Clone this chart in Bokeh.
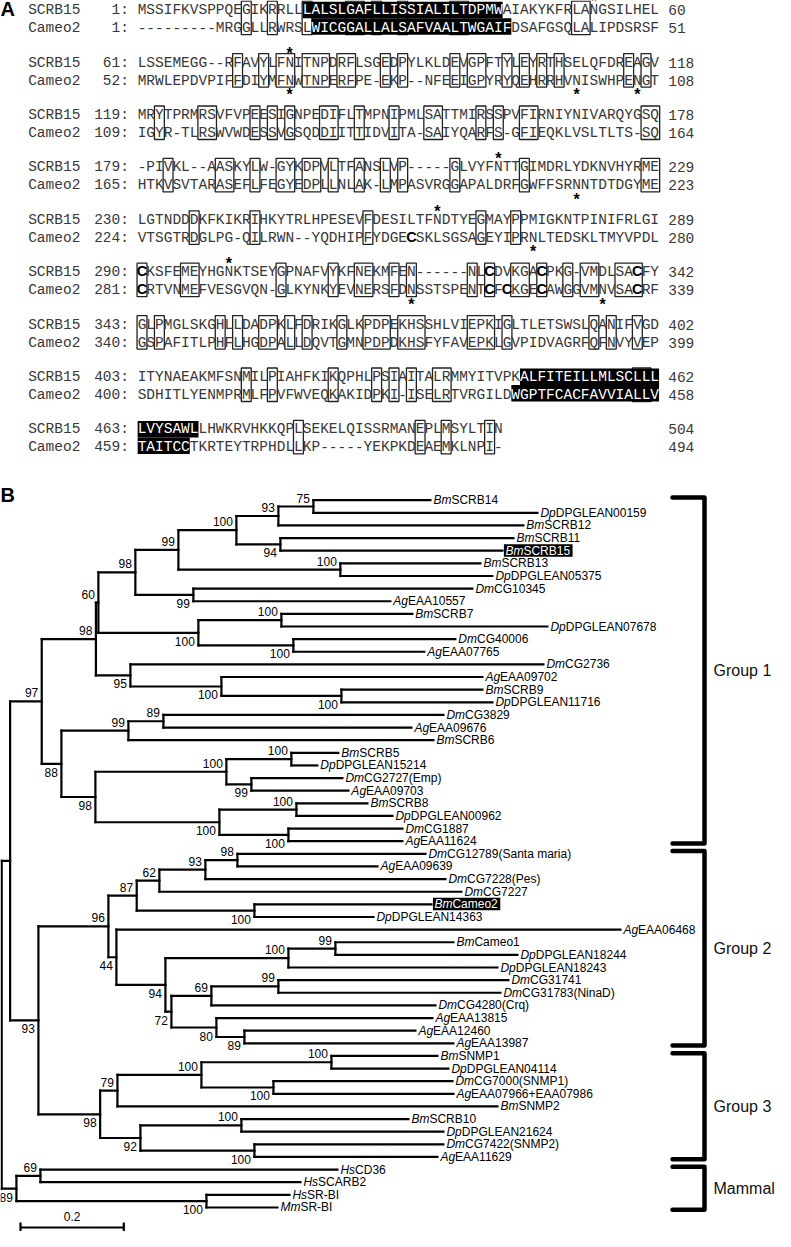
from bokeh.plotting import figure
from bokeh.models import Range1d
from bokeh.layouts import column
from bokeh.embed import file_html
from bokeh.resources import INLINE
from bokeh.core.properties import value

# ------------------------------------------------------------------ data A
seq_names = ["SCRB15", "Cameo2"]
scrb15_blocks = [
    "MSSIFKVSPPQEGIKRRLLLALSLGAFLLISSIALILTDPMWAIAKYKFRLANGSILHEL",
    "LSSEMEGG--RFAVYLFNITNPDRFLSGEDPYLKLDEVGPFTYLEYRTHSELQFDREAGV",
    "MRYTPRMRSVFVPEESIGNPEDIFLTMPNIPMLSATTMIRSSPVFIRNIYNIVARQYGSQ",
    "-PIVKL--AASKYLW-GYKDPVLTFANSLVP-----GLVYFNTTGIMDRLYDKNVHYRME",
    "LGTNDDDKFKIKRIHKYTRLHPESEVFDESILTFNDTYEGMAYPPMIGKNTPINIFRLGI",
    "CKSFEMEYHGNKTSEYGPNAFVYKFNEKMFEN------NLCDVKGACPKG-VMDLSACFY",
    "GLPMGLSKGHLLDADPKLFDRIKGLKPDPEKHSSHLVIEPKIGLTLETSWSLQANIFVGD",
    "ITYNAEAKMFSNMILPIAHFKIKQPHLPSIAITALRMMYITVPKALFITEILLMLSCLLL",
    "LVYSAWLLHWKRVHKKQPLSEKELQISSRMANEPLMSYLTIN",
]
cameo2_blocks = [
    "---------MRGGLLRWRSLWICGGALLALSAFVAALTWGAIFDSAFGSQLALIPDSRSF",
    "MRWLEPDVPIFFDIYMFNWTNPERFPE-EKP--NFEEIGPYRYQEHRRHVNISWHPENGT",
    "IGYR-TLRSWVWDESSVGSQDDIITTIDVITA-SAIYQARFS-GFIEQKLVSLTLTS-SQ",
    "HTKVSVTARASEFLFEGYEDPLLNLAK-LMPASVRGGAPALDRFGWFFSRNNTDTDGYME",
    "VTSGTRDGLPG-QILRWN--YQDHIPFYDGECSKLSGSAGEYIPRNLTEDSKLTMYVPDL",
    "CRTVNMEFVESGVQN-GLKYNKYEVNERSFDNSSTSPENTCFCKGECAWGGVMNVSACRF",
    "GSPAFITLPHFLHGDPALLDQVTGMNPDPDKHSFYFAVEPKLGVPIDVAGRFQFNVYVEP",
    "SDHITLYENMPRMLFPVFWVEQKAKIDPKI-ISELRTVRGILDWGPTFCACFAVVIALLV",
    "TAITCCTKRTEYTRPHDLLKP-----YEKPKDEAEMKLNPI-",
]
scrb15_tm = [(20, 42), (447, 469)]
cameo2_tm = [(12, 34), (442, 464)]
scrb15_glyco = [53, 76, 211, 264, 300]
cameo2_glyco = [69, 99, 106, 214, 266, 311, 333]
scrb15_cys = [290, 324, 330, 340]
cameo2_cys = [252, 281, 320, 322, 326, 337]

# ------------------------------------------------------------------ data B
group1_newick = (
    "((((((((BmSCRB14:0.2265,DpDPGLEAN00159:0.4337)75:0.0678,BmSCRB12:0.4743)93:0.0813,"
    "(BmSCRB11:0.4511,BmSCRB15:0.4298)94:0.0852)100:0.1123,"
    "(BmSCRB13:0.2711,DpDPGLEAN05375:0.2943)100:0.3136)99:0.0833,"
    "(DmCG10345:0.5402,AgEAA10557:0.3814)99:0.1123)98:0.0716,"
    "((BmSCRB7:0.2536,DpDPGLEAN07678:0.5150)100:0.1607,"
    "(DmCG40006:0.3136,AgEAA07765:0.2536)100:0.1839)100:0.1936)60:0.0048,"
    "(DmCG2736:0.7996,(AgEAA09702:0.5053,(BmSCRB9:0.2730,DpDPGLEAN11716:0.2923)100:0.2323)100:0.1762)95:0.0668)98:0.1049,"
    "(((DmCG3829:0.5421,AgEAA09676:0.4801)89:0.0678,BmSCRB6:0.5905)99:0.1297,"
    "(((BmSCRB5:0.0910,DpDPGLEAN15214:0.0503)100:0.1258,('DmCG2727(Emp)':0.1762,AgEAA09703:0.1878)99:0.0484)100:0.2536,"
    "((BmSCRB8:0.1375,DpDPGLEAN00962:0.1859)100:0.1491,(DmCG1887:0.2207,AgEAA11624:0.2207)100:0.1336)100:0.2401)98:0.0658)88:0.0381)97:0.0612"
)
group23_newick = (
    "(((((('DmCG12789(Santa maria)':0.3640,AgEAA09639:0.2711)98:0.0620,'DmCG7228(Pes)':0.4647)93:0.0891,"
    "DmCG7227:0.5847)62:0.0439,(BmCameo2:0.3427,DpDPGLEAN14363:0.2304)100:0.2279)87:0.0548,"
    "(AgEAA06468:0.9758,(((BmCameo1:0.2285,DpDPGLEAN18244:0.3524)99:0.0910,DpDPGLEAN18243:0.4046)100:0.2381,"
    "(((DmCG31741:0.4453,'DmCG31783(NinaD)':0.4298)99:0.1297,'DmCG4280(Crq)':0.4337)69:0.0774,"
    "(AgEAA13815:0.4182,(AgEAA12460:0.3311,AgEAA13987:0.4046)89:0.0542)80:0.0871)72:0.0116)94:0.0949)44:0.0155)96:0.1355,"
    "((((BmSNMP1:0.2052,DpDPGLEAN04114:0.2265)100:0.2517,('DmCG7000(SNMP1)':0.3466,'AgEAA07966+EAA07986':0.3485)100:0.1394)100:0.1626,"
    "BmSNMP2:0.7357)79:0.0335,((BmSCRB10:0.3233,DpDPGLEAN21624:0.3911)100:0.1955,"
    "('DmCG7422(SNMP2)':0.3659,AgEAA11629:0.3543)100:0.2207)92:0.0780)98:0.1195)93:0.0548"
)
mammal_newick = "((HsCD36:0.5750,HsSCARB2:0.5034)69:0.0465,('HsSR-BI':0.1607,'MmSR-BI':0.1375)100:0.3679)89:0.0285"
tree_newick = "((" + group1_newick + "," + group23_newick + "):0.0163," + mammal_newick + ");"

highlighted = ["BmSCRB15", "BmCameo2"]
group_names = ["Group 1", "Group 2", "Group 3", "Mammal"]
group_first = ["BmSCRB14", "DmCG12789(Santa maria)", "BmSNMP1", "HsCD36"]
group_last = ["AgEAA11624", "AgEAA13987", "AgEAA11629", "MmSR-BI"]
label_above_exceptions = ["BmSCRB13"]
scale_bar_length = 0.2

# ------------------------------------------------------------------ helpers
W, HA, HB = 775, 470, 761
MONO = value("Liberation Mono")
SANS = value("Liberation Sans")


def runs(cols):
    out = []
    for c in sorted(cols):
        if out and c == out[-1][1] + 1:
            out[-1][1] = c
        else:
            out.append([c, c])
    return out


def new_fig(w, h, xr, yr):
    p = figure(width=w, height=h, x_range=xr, y_range=yr, output_backend="svg",
               toolbar_location=None, x_axis_location=None, y_axis_location=None,
               min_border=0, outline_line_color=None,
               background_fill_color="white", border_fill_color="white")
    p.xgrid.visible = False
    p.ygrid.visible = False
    return p


# ------------------------------------------------------------------ panel A
CW = 8.69
ax0 = 1 - 141.5 / CW
pa = new_fig(W, HA, Range1d(ax0, ax0 + W / CW), Range1d(HA, 0))

ROW0, BLOCK, ROWGAP = 8.7, 52.4, 18.0
MDY = 0.9
seqs = [scrb15_blocks, cameo2_blocks]
tms = [scrb15_tm, cameo2_tm]
glys = [scrb15_glyco, cameo2_glyco]
cyss = [scrb15_cys, cameo2_cys]

norm = dict(x=[], y=[], t=[])
white = dict(x=[], y=[], t=[])
bold = dict(x=[], y=[], t=[])
star = dict(x=[], y=[])
boxes = dict(l=[], r=[], t=[], b=[])
black = dict(l=[], r=[], t=[], b=[])
names = dict(x=[], y=[], t=[])
startn = dict(x=[], y=[], t=[])
endn = dict(x=[], y=[], t=[])

counter = [1, 1]
for b in range(len(scrb15_blocks)):
    ys = [ROW0 + BLOCK * b, ROW0 + BLOCK * b + ROWGAP]
    resnum = []
    for r in range(2):
        nums = []
        for ch in seqs[r][b]:
            if ch == "-":
                nums.append(None)
            else:
                nums.append(counter[r])
                counter[r] += 1
        resnum.append(nums)
    s1, s2 = scrb15_blocks[b], cameo2_blocks[b]
    ident = [c + 1 for c in range(min(len(s1), len(s2))) if s1[c] != "-" and s1[c] == s2[c]]
    for a, e in runs(ident):
        boxes["l"].append(a - 0.57); boxes["r"].append(e + 0.57)
        boxes["t"].append(ys[0] - 8.0); boxes["b"].append(ys[1] + 7.5)
    for r in range(2):
        s, nums = seqs[r][b], resnum[r]
        in_tm = [c + 1 for c, n in enumerate(nums)
                 if n is not None and any(lo <= n <= hi for lo, hi in tms[r])]
        for a, e in runs(in_tm):
            black["l"].append(a - 0.5); black["r"].append(e + 0.5)
            if r == 0:
                black["t"].append(ys[r] - 7.5); black["b"].append(ys[r] + 9.0)
            else:
                black["t"].append(ys[r] - 9.0); black["b"].append(ys[r] + 7.5)
        for c, ch in enumerate(s):
            n, x = nums[c], c + 1
            if n is not None and n in cyss[r]:
                bold["x"].append(x); bold["y"].append(ys[r]); bold["t"].append(ch)
            elif x in in_tm:
                white["x"].append(x); white["y"].append(ys[r] + MDY); white["t"].append(ch)
            else:
                norm["x"].append(x); norm["y"].append(ys[r] + MDY); norm["t"].append(ch)
            if n is not None and n in glys[r]:
                star["x"].append(x)
                star["y"].append(ys[0] - 11.7 + 4 if r == 0 else ys[1] + 11.0 + 4)
        real = [n for n in nums if n is not None]
        names["x"].append(-12.1); names["y"].append(ys[r] + MDY); names["t"].append(seq_names[r])
        startn["x"].append(-0.5); startn["y"].append(ys[r] + MDY); startn["t"].append(f"{real[0]}:")
        endn["x"].append(61.55); endn["y"].append(ys[r] + MDY); endn["t"].append(str(real[-1]))

pa.quad(left=boxes["l"], right=boxes["r"], top=boxes["t"], bottom=boxes["b"],
        fill_color=None, line_color="#222222", line_width=1.3)
pa.quad(left=black["l"], right=black["r"], top=black["t"], bottom=black["b"],
        fill_color="black", line_color=None)
common = dict(text_font=MONO, text_font_size="14.5px", text_baseline="middle")
pa.text(x=norm["x"], y=norm["y"], text=norm["t"], text_color="#383838", text_align="center", **common)
pa.text(x=white["x"], y=white["y"], text=white["t"], text_color="white", text_align="center", **common)
pa.text(x=names["x"], y=names["y"], text=names["t"], text_color="#383838", text_align="left", **common)
pa.text(x=startn["x"], y=startn["y"], text=startn["t"], text_color="#383838", text_align="right", **common)
pa.text(x=endn["x"], y=endn["y"], text=endn["t"], text_color="#383838", text_align="left", **common)
pa.text(x=bold["x"], y=bold["y"], text=bold["t"], text_color="black", text_align="center",
        text_font=SANS, text_font_style="bold", text_font_size="14.5px", text_baseline="middle")
pa.text(x=star["x"], y=star["y"], text=["*"] * len(star["x"]), text_color="black", text_align="center",
        text_font=SANS, text_font_style="bold", text_font_size="16px", text_baseline="middle")
pa.text(x=[ax0], y=[8.5], text=["A"], text_font=SANS, text_font_style="bold",
        text_font_size="20px", text_baseline="middle", text_align="left", text_color="black")


# ------------------------------------------------------------------ panel B
def parse_newick(s):
    pos = 0

    def node_():
        nonlocal pos
        nd = {"children": [], "name": "", "label": "", "length": 0.0}
        if s[pos] == "(":
            pos += 1
            while True:
                nd["children"].append(node_())
                if s[pos] == ",":
                    pos += 1
                elif s[pos] == ")":
                    pos += 1
                    break
                else:
                    raise ValueError("bad newick at %d" % pos)
        if s[pos] == "'":
            end = s.index("'", pos + 1)
            txt = s[pos + 1:end]
            pos = end + 1
        else:
            st = pos
            while s[pos] not in ",():;":
                pos += 1
            txt = s[st:pos]
        if nd["children"]:
            nd["label"] = txt
        else:
            nd["name"] = txt
        if s[pos] == ":":
            pos += 1
            st = pos
            while s[pos] not in ",();":
                pos += 1
            nd["length"] = float(s[st:pos])
        return nd

    return node_()


PX, LY = 516.5, 12.63
bx0 = -1.2 / PX
by_top = -29.7 / LY
pb = new_fig(W, HB, Range1d(bx0, bx0 + W / PX), Range1d(by_top + HB / LY, by_top))


def img_x(px):
    return bx0 + (px - 8) / PX


def img_y(py):
    return by_top + (py - 478) / LY


tree = parse_newick(tree_newick)
leaves = []


def layout(nd, depth, parent):
    nd["x"], nd["parent"] = depth, parent
    if not nd["children"]:
        nd["y"] = len(leaves)
        leaves.append(nd)
    else:
        for ch in nd["children"]:
            layout(ch, depth + ch["length"], nd)
        nd["y"] = (nd["children"][0]["y"] + nd["children"][-1]["y"]) / 2.0


layout(tree, 0.0, None)


def first_leaf(nd):
    while nd["children"]:
        nd = nd["children"][0]
    return nd["name"]


seg = dict(x0=[], y0=[], x1=[], y1=[])
boot = dict(x=[], y=[], t=[])


def collect(nd):
    par = nd["parent"]
    if par is not None:
        seg["x0"].append(par["x"]); seg["y0"].append(nd["y"])
        seg["x1"].append(nd["x"]); seg["y1"].append(nd["y"])
    if nd["children"]:
        seg["x0"].append(nd["x"]); seg["y0"].append(nd["children"][0]["y"])
        seg["x1"].append(nd["x"]); seg["y1"].append(nd["children"][-1]["y"])
        if nd["label"]:
            upper = par is not None and par["children"][0] is nd
            if first_leaf(nd) in label_above_exceptions:
                upper = True
            dy = -8.5 if upper else 8.5
            boot["x"].append(nd["x"] - 3.5 / PX)
            boot["y"].append(nd["y"] + dy / LY)
            boot["t"].append(nd["label"])
        for ch in nd["children"]:
            collect(ch)


collect(tree)
pb.segment(x0=seg["x0"], y0=seg["y0"], x1=seg["x1"], y1=seg["y1"],
           line_color="black", line_width=2.2, line_cap="square")
pb.text(x=boot["x"], y=boot["y"], text=boot["t"], text_font=SANS, text_font_size="12px",
        text_align="right", text_baseline="middle", text_color="black")

AW = {'A': .667, 'B': .667, 'C': .722, 'D': .722, 'E': .667, 'F': .611, 'G': .778, 'H': .722,
      'I': .278, 'K': .667, 'L': .556, 'M': .833, 'N': .722, 'P': .667, 'R': .722, 'S': .667,
      'T': .611, 'a': .556, 'e': .556, 'g': .556, 'm': .833, 'o': .556, 'p': .556, 's': .5,
      'q': .556, 'r': .333, 'i': .222, 'n': .556, 't': .278, '(': .333, ')': .333, '+': .584,
      '-': .333, ' ': .278}


def tw(txt, size=12):
    return sum(AW.get(ch, 0.556) for ch in txt) * size


pre = dict(x=[], y=[], t=[])
rest = dict(x=[], y=[], t=[])
pre_w = dict(x=[], y=[], t=[])
rest_w = dict(x=[], y=[], t=[])
hl = dict(l=[], r=[], t=[], b=[])
for lf in leaves:
    nm = lf["name"]
    p1, p2 = nm[:2], nm[2:]
    x_text = lf["x"] + 3.0 / PX
    x_rest = lf["x"] + (3.0 + tw(p1)) / PX
    if nm in highlighted:
        hl["l"].append(lf["x"] + 1.5 / PX); hl["r"].append(lf["x"] + (4.0 + tw(nm) + 1.5) / PX)
        hl["t"].append(lf["y"] - 6.5 / LY); hl["b"].append(lf["y"] + 6.0 / LY)
        pre_w["x"].append(x_text); pre_w["y"].append(lf["y"]); pre_w["t"].append(p1)
        rest_w["x"].append(x_rest); rest_w["y"].append(lf["y"]); rest_w["t"].append(p2)
    else:
        pre["x"].append(x_text); pre["y"].append(lf["y"]); pre["t"].append(p1)
        rest["x"].append(x_rest); rest["y"].append(lf["y"]); rest["t"].append(p2)

pb.quad(left=hl["l"], right=hl["r"], top=hl["t"], bottom=hl["b"], fill_color="black", line_color=None)
lab = dict(text_font=SANS, text_font_size="12px", text_align="left", text_baseline="middle")
pb.text(x=pre["x"], y=pre["y"], text=pre["t"], text_font_style="italic", text_color="black", **lab)
pb.text(x=rest["x"], y=rest["y"], text=rest["t"], text_color="black", **lab)
pb.text(x=pre_w["x"], y=pre_w["y"], text=pre_w["t"], text_font_style="italic", text_color="white", **lab)
pb.text(x=rest_w["x"], y=rest_w["y"], text=rest_w["t"], text_color="white", **lab)

# group brackets
names_order = [lf["name"] for lf in leaves]
bxl, bxr = img_x(680), img_x(712)
bk_x, bk_y, gl = [], [], dict(x=[], y=[], t=[])
for g, f, l in zip(group_names, group_first, group_last):
    i0, i1 = names_order.index(f), names_order.index(l)
    yt, yb = i0 - 0.22, i1 + 0.18
    bk_x.append([bxl, bxr, bxr, bxl])
    bk_y.append([yt, yt, yb, yb])
    gl["x"].append(img_x(721)); gl["y"].append((yt + yb) / 2); gl["t"].append(g)
pb.multi_line(xs=bk_x, ys=bk_y, line_color="black", line_width=4.5, line_join="round", line_cap="round")
pb.text(x=gl["x"], y=gl["y"], text=gl["t"], text_font=SANS, text_font_size="16px",
        text_align="left", text_baseline="middle", text_color="#111111")

# scale bar
sb_x0 = img_x(28)
sb_y = img_y(1235)
pb.segment(x0=[sb_x0, sb_x0, sb_x0 + scale_bar_length], y0=[sb_y, sb_y - 5 / LY, sb_y - 5 / LY],
           x1=[sb_x0 + scale_bar_length, sb_x0, sb_x0 + scale_bar_length], y1=[sb_y, sb_y + 5 / LY, sb_y + 5 / LY],
           line_color="black", line_width=2.2)
pb.text(x=[sb_x0 + scale_bar_length / 2], y=[img_y(1224)], text=[f"{scale_bar_length:g}"],
        text_font=SANS, text_font_size="12px", text_align="center", text_baseline="middle", text_color="black")

pb.text(x=[bx0], y=[img_y(502.5)], text=["B"], text_font=SANS, text_font_style="bold",
        text_font_size="20px", text_baseline="middle", text_align="left", text_color="black")

layout_all = column(pa, pb, spacing=0)
open("out.html", "w").write(file_html(layout_all, INLINE))
